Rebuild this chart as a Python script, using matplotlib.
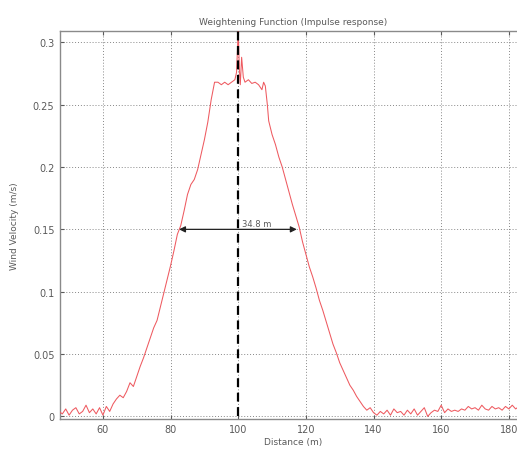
import numpy as np
import matplotlib
matplotlib.use("Agg")
import matplotlib.pyplot as plt

# =============================================================================
# DATA
# =============================================================================

distance = [
    47, 48, 49, 50, 51, 52, 53, 54, 55, 56, 57, 58, 59, 60,
    61, 62, 63, 64, 65, 66, 67, 68, 69, 70, 71, 72, 73, 74, 75, 76, 77, 78,
    79, 80, 81, 82, 83, 84, 85, 86, 87, 88, 89, 90, 91, 92, 93, 94, 95, 96,
    97, 98, 99, 99.5, 100, 100.3, 100.6, 101, 101.5, 102, 103, 104, 105, 106,
    107, 107.5, 108, 108.6, 109, 110, 111, 112, 113, 114, 115, 116, 117, 118,
    119, 120, 121, 122, 123, 124, 125, 126, 127, 128, 129, 130, 131, 132, 133,
    134, 135, 136, 137, 138, 139, 140, 141, 142, 143, 144, 145, 146, 147, 148,
    149, 150, 151, 152, 153, 154, 155, 156, 157, 158, 159, 160, 161, 162, 163,
    164, 165, 166, 167, 168, 169, 170, 171, 172, 173, 174, 175, 176, 177, 178,
    179, 180, 181, 182, 183, 184, 185,
]

velocity = [
    0.004, 0.002, 0.006, 0.001, 0.005, 0.007, 0.002, 0.004, 0.009, 0.003, 0.006, 0.002, 0.007, 0.001,
    0.008, 0.004, 0.010, 0.014, 0.017, 0.015, 0.020, 0.027, 0.024, 0.032, 0.040, 0.047, 0.055, 0.063,
    0.071, 0.077, 0.088, 0.099,
    0.110, 0.121, 0.133, 0.146, 0.153, 0.165, 0.178, 0.186, 0.190, 0.198, 0.210, 0.222, 0.236, 0.254,
    0.268, 0.268, 0.266, 0.268,
    0.266, 0.268, 0.270, 0.276, 0.310, 0.280, 0.266, 0.288, 0.272, 0.268, 0.270, 0.267, 0.268, 0.266,
    0.262, 0.268, 0.265, 0.250, 0.237, 0.226, 0.218, 0.208, 0.200, 0.190, 0.180, 0.170, 0.161, 0.152,
    0.140, 0.130, 0.120, 0.112, 0.103, 0.093, 0.085, 0.076, 0.067, 0.058, 0.051, 0.043, 0.037, 0.031, 0.025,
    0.021, 0.016, 0.012, 0.008, 0.005, 0.007, 0.003, 0.001, 0.004, 0.002, 0.005, 0.001, 0.006, 0.003, 0.004,
    0.001, 0.005, 0.002, 0.006, 0.001, 0.004, 0.007, 0.000, 0.003, 0.005, 0.004, 0.009, 0.003, 0.006, 0.004,
    0.005, 0.004, 0.006, 0.005, 0.008, 0.006, 0.007, 0.005, 0.009, 0.006, 0.005, 0.008, 0.006, 0.007, 0.005,
    0.008, 0.006, 0.009, 0.006, 0.008, 0.007, 0.006,
]

fwhm_left = 82.5
fwhm_right = 117.3
half_max = 0.15
center = 100

x_ticks = [60, 80, 100, 120, 140, 160, 180]
y_ticks = [0, 0.05, 0.1, 0.15, 0.2, 0.25, 0.3]

# =============================================================================
# PLOT
# =============================================================================

TXT = "#5a5a5a"

fig = plt.figure(figsize=(5.17, 4.52), dpi=100)
ax = fig.add_axes([0.116, 0.071, 0.901, 0.858])

ax.plot(distance, velocity, color="#ee5a60", lw=0.75, zorder=3)

ax.plot([center, center], [0, 0.31], color="black", lw=1.6,
        dashes=(4, 2.5), zorder=4)

ax.annotate("", xy=(fwhm_left, half_max), xytext=(fwhm_right, half_max),
            arrowprops=dict(arrowstyle="<|-|>", color="#222222", lw=0.9,
                            mutation_scale=9, shrinkA=0, shrinkB=0),
            zorder=5)
ax.text(101.2, half_max + 0.001, "34.8 m", fontsize=6, color=TXT,
        ha="left", va="bottom")

ax.set_xlim(47.3, 185)
ax.set_ylim(-0.002, 0.309)
ax.set_xticks(x_ticks)
ax.set_yticks(y_ticks)
ax.set_yticklabels(["0", "0.05", "0.1", "0.15", "0.2", "0.25", "0.3"])

ax.grid(True, color="#555555", ls=(0, (1, 2)), lw=0.7, alpha=0.7)
ax.tick_params(direction="in", top=True, right=True, labelsize=7,
               colors=TXT, length=3, pad=4)
for s in ax.spines.values():
    s.set_color("#8a8a8a")
    s.set_linewidth(1.0)

ax.set_title("Weightening Function (Impulse response)", fontsize=6.5,
             color=TXT, pad=5)
ax.set_xlabel("Distance (m)", fontsize=6.5, color=TXT, labelpad=2)
ax.set_ylabel("Wind Velocity (m/s)", fontsize=6.5, color=TXT, labelpad=10)

fig.savefig("out.png", dpi=100)
